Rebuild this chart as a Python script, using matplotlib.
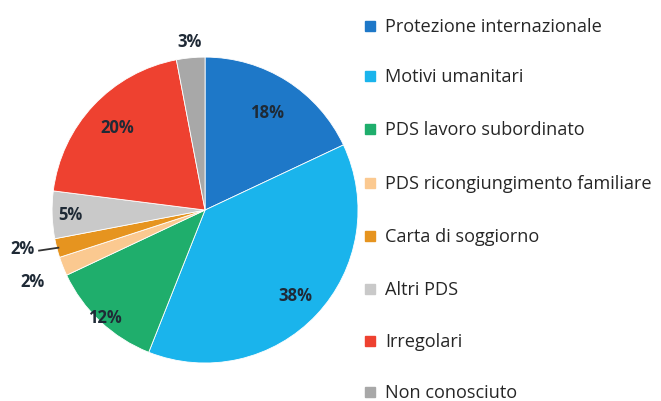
import numpy as np
import matplotlib.pyplot as plt
from matplotlib.patches import Rectangle

labels = ["Protezione internazionale", "Motivi umanitari", "PDS lavoro subordinato",
          "PDS ricongiungimento familiare", "Carta di soggiorno", "Altri PDS",
          "Irregolari", "Non conosciuto"]
values = [18, 38, 12, 2, 2, 5, 20, 3]
colors = ["#1e78c8", "#1ab4ec", "#1fae6c", "#fbc990", "#e6941f", "#c9c9c9", "#ee4130", "#a8a8a8"]

plt.rcParams['font.family'] = ['Open Sans', 'DejaVu Sans']

fig = plt.figure(figsize=(6.61, 4.02), dpi=100)
ax = fig.add_axes([0.0787, 0.0945, 0.463, 0.761])
wedges, _ = ax.pie(values, colors=colors, startangle=90, counterclock=False,
                   radius=1, wedgeprops=dict(linewidth=0.6, edgecolor="white"))
ax.set_xlim(-1, 1)
ax.set_ylim(-1, 1)
ax.axis("off")

# label distance per slice (inside vs outside)
dist = [0.76, 0.81, 0.96, 1.22, 1.28, 0.88, 0.79, 1.11]
tcol = "#1f2a36"
for i, w in enumerate(wedges):
    ang = np.deg2rad((w.theta1 + w.theta2) / 2)
    x, y = dist[i] * np.cos(ang), dist[i] * np.sin(ang)
    if i == 4:
        x, y = -1.196, -0.25
        # leader line to the thin slice
        ax.plot([-1.085, np.cos(ang) * 0.99], [-0.265, np.sin(ang) * 0.99],
                color="#333333", lw=1.3, clip_on=False)
    if i == 3:
        x, y = -1.13, -0.464
    ax.text(x, y, f"{values[i]}%", ha="center", va="center", fontsize=12,
            fontweight="bold", color=tcol)

ys = [27, 77, 130, 184, 237, 290, 342, 393]
for lab, c, yp in zip(labels, colors, ys):
    fy = 1 - yp / 402
    fig.patches.append(Rectangle((365 / 661, fy - 5 / 402), 10 / 661, 10 / 402,
                                 transform=fig.transFigure, color=c))
    fig.text(385 / 661, fy, lab, ha="left", va="center", fontsize=13.1, color="#262626")

fig.savefig("out.png", dpi=100)
